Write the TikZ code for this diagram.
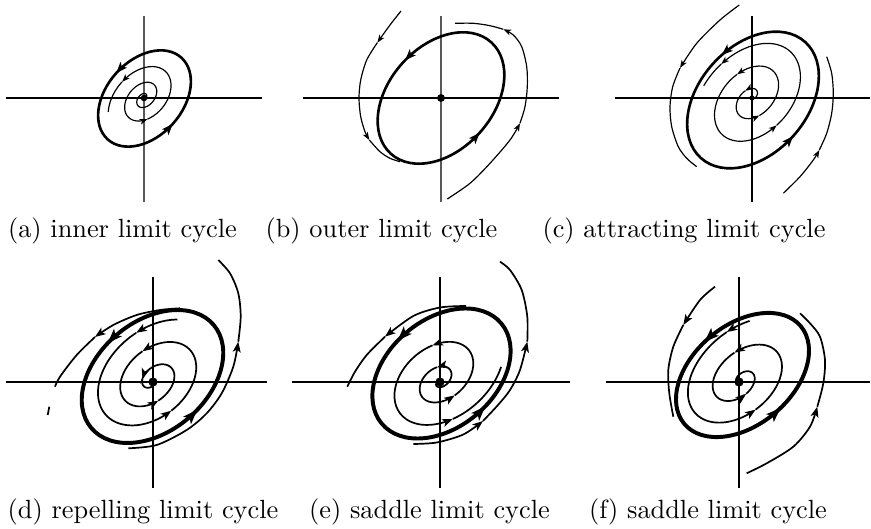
\documentclass[tikz,border=0pt]{standalone}
\usepackage{tikz}
\usetikzlibrary{arrows.meta,decorations.markings}
\tikzset{
  ax/.style={draw=black,line width=0.45pt},
  axg/.style={draw=black!65,line width=0.45pt},
  orb/.style={draw=black,line width=0.45pt},
  orbb/.style={draw=black,line width=0.65pt},
  lc/.style={draw=black,line width=1pt},
  lcb/.style={draw=black,line width=1.5pt},
  hd/.style={-{Stealth[length=3pt,width=2.2pt,inset=0.8pt]}},
  hdb/.style={-{Stealth[length=4pt,width=3pt,inset=1pt]}},
  lcarr/.style={postaction={decorate,decoration={markings,
    mark=at position #1 with {\arrow{Stealth[length=4.2pt,width=3.2pt,inset=1pt]}}}}},
  lcarrb/.style={postaction={decorate,decoration={markings,
    mark=at position #1 with {\arrow{Stealth[length=5.5pt,width=4pt,inset=1.3pt]}}}}},
  dot/.style={circle,fill=black,inner sep=0pt,minimum size=#1},
  capt/.style={anchor=base,inner sep=0pt},
}

\begin{document}
\begin{tikzpicture}[x=0.38pt,y=-0.38pt,
  declare function={
    sa(\t)=4+10*(\t/360)+2.5*(\t/360)*(\t/360);
    sc(\t)=8+26*(\t/360);
    sd(\t)=72-25*(\t/360);
    se(\t)=14+20*(\t/360)+5*(\t/360)*(\t/360);
    sf(\t)=74-30*(\t/360);
  }]
\useasboundingbox (0,0) rectangle (871,529);
% origins of the phase planes
\coordinate (oa) at (144,98);
\coordinate (ob) at (441,98);
\coordinate (oc) at (752,98);
\coordinate (od) at (153,382);
\coordinate (oe) at (440,382);
\coordinate (of) at (739,382);
% centres of the limit cycles
\coordinate (ca) at (144.5,98.5);
\coordinate (cb) at (441,98);
\coordinate (cc) at (753,100);
\coordinate (cd) at (152.5,376.5);
\coordinate (ce) at (441.5,373.5);
\coordinate (cf) at (742.5,375);
% axes
\draw[ax] (oa) ++(-138,0) -- ++(256,0);
\draw[axg] (oa) ++(0,-82) -- ++(0,186);
\draw[ax] (ob) ++(-138,0) -- ++(256,0);
\draw[axg] (ob) ++(0,-82) -- ++(0,186);
\draw[ax] (oc) ++(-137,0) -- ++(255,0);
\draw[ax] (oc) ++(0,-82) -- ++(0,186);
\draw[ax] (od) ++(-147,0) -- ++(261,0);
\draw[ax] (od) ++(0,-105) -- ++(0,211);
\draw[ax] (oe) ++(-148,0) -- ++(278,0);
\draw[ax] (oe) ++(0,-105) -- ++(0,211);
\draw[ax] (of) ++(-133,0) -- ++(264,0);
\draw[ax] (of) ++(0,-105) -- ++(0,211);

% (a) inner limit cycle
\draw[lc,lcarr=0.25,lcarr=0.75,shift={(ca)},y=0.38pt,rotate=48] (0,0) ellipse[x radius=55,y radius=38];
\begin{scope}[shift={(oa)},y=0.38pt,rotate=48]
\draw[orb,hd] plot[domain=-108:601,samples=90,smooth] ({sa(\x)*cos(\x)},{0.69*sa(\x)*sin(\x)});
\draw[orb,hd] plot[domain=601:814,samples=30,smooth] ({sa(\x)*cos(\x)},{0.69*sa(\x)*sin(\x)});
\draw[orb] plot[domain=814:864,samples=10,smooth] ({sa(\x)*cos(\x)},{0.69*sa(\x)*sin(\x)});
\end{scope}
\node[dot=2.5pt] (da) at (oa) {};

% (b) outer limit cycle
\draw[lc,lcarr=0.24,lcarr=0.75,shift={(cb)},y=0.38pt,rotate=48] (0,0) ellipse[x radius=75,y radius=52];
\draw[orb,hd] plot[smooth] coordinates {(401,11) (390,25) (377.3,42.7)};
\draw[orb,hd] plot[smooth] coordinates {(377.3,42.7) (366.7,60) (360.7,80) (359,98.3) (360.7,116.7) (365,131.7) (369.3,140)};
\draw[orb] plot[smooth] coordinates {(369.3,140) (380,151.7) (390,158.3) (400,161.7)};
\draw[orb,hd] plot[smooth] coordinates {(447.3,199) (470,183.3) (490,163.3) (510,140) (520,123.3)};
\draw[orb,hd] plot[smooth] coordinates {(520,123.3) (525,106.7) (527.3,86.7) (526.7,66.7) (521.7,46.7) (513.3,35) (503.3,29.3)};
\draw[orb] plot[smooth] coordinates {(503.3,29.3) (490,25.7) (473.3,23.3) (455,23.3)};
\node[dot=3pt] (db) at (ob) {};

% (c) attracting limit cycle
\draw[lc,lcarr=0.22,lcarr=0.75,shift={(cc)},y=0.38pt,rotate=48] (0,0) ellipse[x radius=78,y radius=54];
\begin{scope}[shift={(oc)},y=0.38pt,rotate=48]
\draw[orb,hd] plot[domain=-101:86,samples=30,smooth] ({sc(\x)*cos(\x)},{0.69*sc(\x)*sin(\x)});
\draw[orb,hd] plot[domain=86:252,samples=25,smooth] ({sc(\x)*cos(\x)},{0.69*sc(\x)*sin(\x)});
\draw[orb,hd] plot[domain=252:439,samples=25,smooth] ({sc(\x)*cos(\x)},{0.69*sc(\x)*sin(\x)});
\draw[orb,hd] plot[domain=439:626,samples=25,smooth] ({sc(\x)*cos(\x)},{0.69*sc(\x)*sin(\x)});
\draw[orb,hd] plot[domain=626:806,samples=25,smooth] ({sc(\x)*cos(\x)},{0.69*sc(\x)*sin(\x)});
\draw[orb] plot[domain=806:830,samples=6,smooth] ({sc(\x)*cos(\x)},{0.69*sc(\x)*sin(\x)});
\end{scope}
\draw[orb,hd] plot[smooth] coordinates {(739.3,5) (720,20) (696.7,43.3) (680,68)};
\draw[orb] plot[smooth] coordinates {(680,68) (672.7,86.7) (670,106.7) (671.7,126.7) (678.3,146.7) (686.7,158.3) (696.7,166.7)};
\draw[orb,hd] plot[smooth] coordinates {(783.3,193.3) (800,176.7) (813.3,160) (819.3,150)};
\draw[orb] plot[smooth] coordinates {(819.3,150) (826.7,133.3) (831.7,113.3) (833.3,93.3) (831.7,73.3) (826.7,56.7)};
\node[dot=2pt] (dc) at (oc) {};

% (d) repelling limit cycle
\draw[lcb,lcarrb=0.28,lcarrb=0.78,shift={(cd)},y=0.38pt,rotate=40] (0,0) ellipse[x radius=80,y radius=55];
\draw[orbb,hdb] plot[smooth] coordinates {(180,308.3) (160,310) (136.7,315) (113.3,325) (95,337)};
\draw[orbb] plot[smooth] coordinates {(95,337) (76.7,355) (60,376.7) (55,386.7)};
\draw[orbb,hdb] plot[smooth] coordinates {(128.3,448.3) (156.7,445) (186.7,430) (206.7,413.3) (221.7,393.3) (233.3,366.7) (238.3,341.7)};
\draw[orbb] plot[smooth] coordinates {(238.3,341.7) (240.7,316.7) (238.3,293.3) (230,273.3) (218.3,260)};
\begin{scope}[shift={(od)},y=0.38pt,rotate=40]
\draw[orbb,hdb] plot[domain=36:76,samples=8,smooth] ({sd(\x)*(cos(\x)+0.039)},{sd(\x)*(0.69*sin(\x)+0.057)});
\draw[orbb,hdb] plot[domain=76:263,samples=30,smooth] ({sd(\x)*(cos(\x)+0.039)},{sd(\x)*(0.69*sin(\x)+0.057)});
\draw[orbb,hdb] plot[domain=263:436,samples=30,smooth] ({sd(\x)*(cos(\x)+0.039)},{sd(\x)*(0.69*sin(\x)+0.057)});
\draw[orbb,hdb] plot[domain=436:612,samples=30,smooth] ({sd(\x)*(cos(\x)+0.039)},{sd(\x)*(0.69*sin(\x)+0.057)});
\draw[orbb,hdb] plot[domain=612:839,samples=30,smooth] ({sd(\x)*(cos(\x)+0.039)},{sd(\x)*(0.69*sin(\x)+0.057)});
\draw[orbb] plot[domain=839:1026,samples=30,smooth] ({sd(\x)*(cos(\x)+0.039)},{sd(\x)*(0.69*sin(\x)+0.057)});
\end{scope}
\draw[orbb] (47.7,415) -- (49.3,406.7);
\node[dot=3.5pt] (dd) at (od) {};

% (e) saddle limit cycle
\draw[lcb,lcarrb=0.28,lcarrb=0.78,shift={(ce)},y=0.38pt,rotate=40] (0,0) ellipse[x radius=78,y radius=54];
\draw[orbb,hdb] plot[smooth] coordinates {(466,306) (440,307.5) (413.3,316) (385,336.7)};
\draw[orbb] plot[smooth] coordinates {(385,336.7) (366.7,355) (355,371.7) (347.3,386.7)};
\draw[orbb,hdb] plot[smooth] coordinates {(413.3,444) (436.7,442.5) (463.3,434.5) (483,421)};
\draw[orbb,hdb] plot[smooth] coordinates {(483,421) (498,405) (510,390) (520,370) (527.3,341.7)};
\draw[orbb] plot[smooth] coordinates {(527.3,341.7) (527.3,316.7) (521.7,290) (510,270) (500,261.7)};
\begin{scope}[shift={(oe)},y=0.38pt,rotate=40]
\draw[orbb,hdb] plot[domain=-200:72,samples=40,smooth] ({se(\x)*(cos(\x)+0.085)},{se(\x)*(0.69*sin(\x)+0.071)});
\draw[orbb,hdb] plot[domain=72:270,samples=30,smooth] ({se(\x)*(cos(\x)+0.085)},{se(\x)*(0.69*sin(\x)+0.071)});
\draw[orbb,hdb] plot[domain=270:432,samples=30,smooth] ({se(\x)*(cos(\x)+0.085)},{se(\x)*(0.69*sin(\x)+0.071)});
\draw[orbb,hdb] plot[domain=432:612,samples=30,smooth] ({se(\x)*(cos(\x)+0.085)},{se(\x)*(0.69*sin(\x)+0.071)});
\draw[orbb] plot[domain=612:677,samples=12,smooth] ({se(\x)*(cos(\x)+0.085)},{se(\x)*(0.69*sin(\x)+0.071)});
\end{scope}
\node[dot=3.5pt] (de) at (oe) {};

% (f) saddle limit cycle
\draw[lcb,lcarrb=0.27,lcarrb=0.77,shift={(cf)},y=0.38pt,rotate=40] (0,0) ellipse[x radius=76,y radius=50];
\draw[orbb,hdb] plot[smooth] coordinates {(715,286.7) (700,300) (683.3,325)};
\draw[orbb] plot[smooth] coordinates {(683.3,325) (673.3,346.7) (668.3,370) (669.3,393.3) (673.3,416.7)};
\draw[orbb,hdb] plot[smooth] coordinates {(746.7,473.3) (766.7,463.3) (793.3,446.7) (810,426.7) (817.3,406.7)};
\draw[orbb] plot[smooth] coordinates {(817.3,406.7) (823.3,383.3) (825,360) (820,336.7) (810,323.3) (800,313.3)};
\begin{scope}[shift={(of)},y=0.38pt,rotate=40]
\draw[orbb,hdb] plot[domain=54:76,samples=6,smooth] ({sf(\x)*(cos(\x)+0.094)},{sf(\x)*(0.66*sin(\x)+0.041)});
\draw[orbb,hdb] plot[domain=76:259,samples=30,smooth] ({sf(\x)*(cos(\x)+0.094)},{sf(\x)*(0.66*sin(\x)+0.041)});
\draw[orbb,hdb] plot[domain=259:432,samples=30,smooth] ({sf(\x)*(cos(\x)+0.094)},{sf(\x)*(0.66*sin(\x)+0.041)});
\draw[orbb,hdb] plot[domain=432:619,samples=30,smooth] ({sf(\x)*(cos(\x)+0.094)},{sf(\x)*(0.66*sin(\x)+0.041)});
\draw[orbb] plot[domain=619:871,samples=40,smooth] ({sf(\x)*(cos(\x)+0.094)},{sf(\x)*(0.66*sin(\x)+0.041)});
\end{scope}
\node[dot=3.5pt] (df) at (of) {};

% captions
\node[capt] (ta) at (122.5,238) {(a) inner limit cycle};
\node[capt] (tb) at (381.5,238) {(b) outer limit cycle};
\node[capt] (tc) at (684,238) {(c) attracting limit cycle};
\node[capt] (td) at (143,519) {(d) repelling limit cycle};
\node[capt] (te) at (429.5,519) {(e) saddle limit cycle};
\node[capt] (tf) at (708,519) {(f) saddle limit cycle};
\end{tikzpicture}
\end{document}
